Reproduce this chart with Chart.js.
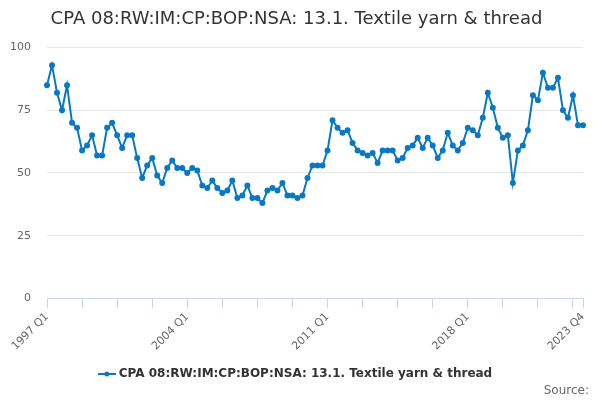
<!DOCTYPE html>
<html>
<head>
<meta charset="utf-8">
<script src="https://cdn.jsdelivr.net/npm/chart.js@4"></script>
<style>
  body { margin: 0; background: #fff; }
  #wrap { position: relative; width: 600px; height: 400px; }
  #source { position: absolute; right: 11px; bottom: 3px; font: 12px "DejaVu Sans", sans-serif; color: #666; }
</style>
</head>
<body>
<div id="wrap">
  <canvas id="chart1"></canvas>
  <div id="source">Source:</div>
</div>
<script>
  const seriesName = 'CPA 08:RW:IM:CP:BOP:NSA: 13.1. Textile yarn & thread';
  const firstYear = 1997;
  const lastYear = 2023;
  const quarters = ['Q1', 'Q2', 'Q3', 'Q4'];
  const yTicks = [0, 25, 50, 75, 100];

  // quarterly values, 1997 Q1 .. 2023 Q4
  const values = [
    85, 93, 82, 75, 85, 70, 68, 59, 61, 65, 57, 57, 68, 70, 65, 60, 65, 65, 56, 48, 53, 56, 49, 46, 52, 55, 52,
    52, 50, 52, 51, 45, 44, 47, 44, 42, 43, 47, 40, 41, 45, 40, 40, 38, 43, 44, 43, 46, 41, 41, 40, 41, 48,
    53, 53, 53, 59, 71, 68, 66, 67, 62, 59, 58, 57, 58, 54, 59, 59, 59, 55, 56, 60, 61, 64, 60, 64, 61, 56,
    59, 66, 61, 59, 62, 68, 67, 65, 72, 82, 76, 68, 64, 65, 46, 59, 61, 67, 81, 79, 90, 84, 84, 88, 75, 72, 81, 69, 69
  ];

  const labels = [];
  for (let y = firstYear; y <= lastYear; y++) {
    quarters.forEach(q => labels.push(y + ' ' + q));
  }
  const lastIdx = labels.length - 1;

  const lineColor = '#0a78c2';
  const axisColor = '#ccd6eb';

  // legend symbol: short line with a dot
  const sym = document.createElement('canvas');
  sym.width = 18; sym.height = 6;
  const sc = sym.getContext('2d');
  sc.strokeStyle = lineColor; sc.lineWidth = 2;
  sc.beginPath(); sc.moveTo(0, 3); sc.lineTo(18, 3); sc.stroke();
  sc.fillStyle = lineColor;
  sc.beginPath(); sc.arc(9, 3, 2.5, 0, Math.PI * 2); sc.fill();

  Chart.defaults.font.family = '"DejaVu Sans", sans-serif';

  const ctx1 = document.getElementById('chart1').getContext('2d');
  const chart1 = new Chart(ctx1, {
    type: 'line',
    data: {
      labels: labels,
      datasets: [{
        label: seriesName,
        data: values,
        borderColor: lineColor,
        backgroundColor: lineColor,
        borderWidth: 2,
        pointRadius: 2,
        pointHoverRadius: 3,
        tension: 0,
        fill: false
      }]
    },
    options: {
      responsive: true,
      maintainAspectRatio: false,
      animation: false,
      layout: { padding: { top: 9, left: 10, right: 17, bottom: 10 } },
      plugins: {
        title: {
          display: true,
          text: seriesName,
          color: '#333333',
          font: { size: 18, weight: 'normal' },
          padding: { top: 0, bottom: 17 }
        },
        legend: {
          position: 'bottom',
          labels: {
            color: '#333333',
            font: { size: 12, weight: 'bold' },
            usePointStyle: true,
            pointStyle: sym,
            padding: 13
          }
        },
        tooltip: { enabled: false }
      },
      scales: {
        x: {
          offset: false,
          border: { color: axisColor },
          afterFit: s => { s.paddingLeft = 0; s.paddingRight = 0; },
          grid: {
            drawOnChartArea: false,
            drawTicks: true,
            tickLength: 10,
            tickColor: c => (c.index % 7 === 0 || c.index === lastIdx) ? axisColor : 'rgba(0,0,0,0)'
          },
          ticks: {
            autoSkip: false,
            minRotation: 45,
            maxRotation: 45,
            color: '#666666',
            font: { size: 11 },
            padding: 2,
            callback: (v, i) => (i % 28 === 0 || i === lastIdx) ? labels[i] : ''
          }
        },
        y: {
          min: 0,
          max: 100,
          afterBuildTicks: s => { s.ticks = yTicks.map(v => ({ value: v })); },
          afterFit: s => { s.width = 37; },
          border: { display: false },
          grid: { color: '#e6e6e6', drawTicks: false },
          ticks: { color: '#666666', font: { size: 11 }, padding: 16 }
        }
      }
    }
  });
</script>
</body>
</html>
